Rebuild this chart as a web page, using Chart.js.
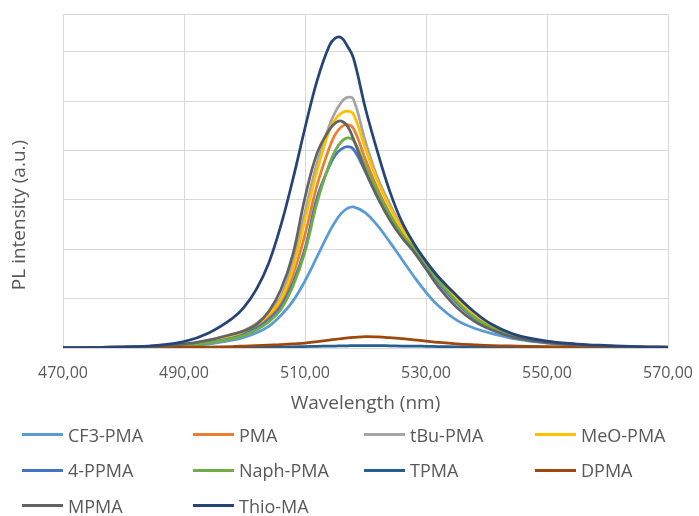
<!DOCTYPE html>
<html>
<head>
<meta charset="utf-8">
<script src="https://cdn.jsdelivr.net/npm/chart.js@4.4.0/dist/chart.umd.min.js"></script>
<style>
  html, body { margin: 0; padding: 0; background: #fff; }
  #wrap { position: relative; width: 699px; height: 516px; }
  #legend {
    position: absolute; left: 22px; top: 417px;
    display: grid; grid-template-columns: repeat(4, 171px); grid-auto-rows: 35.5px;
    font: 18px "Open Sans", sans-serif; color: #595959;
  }
  #legend .item { display: flex; align-items: center; white-space: nowrap; }
  #legend .swatch { width: 41px; height: 3px; margin-right: 5px; }
</style>
</head>
<body>
<div id="wrap">
  <canvas id="plChart" width="699" height="516"></canvas>
  <div id="legend"></div>
</div>
<script>
// wavelength grid (nm)
var wavelengths = [470, 475, 480, 485, 490, 494, 498, 500, 502, 504, 506, 508, 510, 512,
                   514, 515, 516, 517, 518,
                   520, 522, 524, 526, 528, 530, 532,
                   535, 538, 541, 545, 550, 555, 560, 565, 570];

// PL intensity (a.u.)
var cf3Pma  = [0.01, 0.01, 0.02, 0.03, 0.04, 0.08, 0.16, 0.22, 0.31, 0.44, 0.66, 0.95, 1.36, 1.85,
               2.35, 2.56, 2.73, 2.83, 2.86,
               2.74, 2.48, 2.15, 1.80, 1.45, 1.13, 0.86,
               0.57, 0.40, 0.29, 0.18, 0.10, 0.06, 0.04, 0.02, 0.01];
var pma     = [0.01, 0.01, 0.02, 0.03, 0.06, 0.12, 0.23, 0.31, 0.44, 0.63, 0.92, 1.48, 2.30, 3.30,
               4.05, 4.33, 4.48, 4.53, 4.45,
               3.82, 3.22, 2.73, 2.33, 2.03, 1.70, 1.38,
               0.97, 0.63, 0.41, 0.23, 0.12, 0.07, 0.04, 0.02, 0.01];
var tBuPma  = [0.01, 0.01, 0.02, 0.03, 0.07, 0.14, 0.27, 0.36, 0.50, 0.71, 1.04, 1.75, 2.75, 3.75,
               4.50, 4.78, 4.98, 5.08, 5.04,
               4.18, 3.45, 2.92, 2.46, 2.08, 1.75, 1.44,
               1.02, 0.66, 0.43, 0.24, 0.13, 0.07, 0.04, 0.03, 0.02];
var meoPma  = [0.01, 0.01, 0.02, 0.03, 0.07, 0.13, 0.25, 0.34, 0.48, 0.68, 0.98, 1.60, 2.60, 3.60,
               4.40, 4.63, 4.76, 4.80, 4.74,
               4.04, 3.38, 2.86, 2.42, 2.06, 1.73, 1.42,
               1.00, 0.65, 0.42, 0.24, 0.13, 0.07, 0.04, 0.03, 0.02];
var ppma4   = [0.01, 0.01, 0.02, 0.03, 0.05, 0.11, 0.20, 0.28, 0.40, 0.57, 0.84, 1.32, 2.02, 3.05,
               3.68, 3.91, 4.03, 4.08, 4.03,
               3.57, 3.08, 2.65, 2.28, 2.00, 1.67, 1.34,
               0.92, 0.60, 0.39, 0.22, 0.12, 0.07, 0.04, 0.02, 0.01];
var naphPma = [0.01, 0.01, 0.02, 0.03, 0.05, 0.10, 0.19, 0.26, 0.37, 0.53, 0.78, 1.25, 1.95, 2.95,
               3.72, 4.00, 4.18, 4.26, 4.21,
               3.68, 3.16, 2.71, 2.31, 2.03, 1.70, 1.37,
               0.95, 0.62, 0.40, 0.23, 0.12, 0.07, 0.04, 0.02, 0.01];
var tpma    = [0.00, 0.00, 0.00, 0.00, 0.005, 0.005, 0.01, 0.01, 0.015, 0.015, 0.02, 0.025, 0.03, 0.035,
               0.04, 0.04, 0.045, 0.045, 0.05,
               0.05, 0.05, 0.045, 0.04, 0.04, 0.035, 0.03,
               0.025, 0.02, 0.02, 0.015, 0.01, 0.01, 0.005, 0.005, 0.005];
var dpma    = [0.00, 0.00, 0.01, 0.01, 0.015, 0.02, 0.03, 0.04, 0.05, 0.06, 0.07, 0.085, 0.10, 0.13,
               0.16, 0.175, 0.19, 0.205, 0.215,
               0.23, 0.225, 0.21, 0.19, 0.165, 0.14, 0.115,
               0.085, 0.065, 0.05, 0.04, 0.03, 0.02, 0.015, 0.01, 0.01];
var mpma    = [0.01, 0.01, 0.02, 0.04, 0.08, 0.16, 0.28, 0.35, 0.48, 0.74, 1.18, 1.90, 3.05, 3.95,
               4.42, 4.56, 4.60, 4.50, 4.24,
               3.58, 3.05, 2.60, 2.24, 1.95, 1.60, 1.25,
               0.83, 0.54, 0.36, 0.20, 0.11, 0.06, 0.04, 0.02, 0.01];
var thioMa  = [0.00, 0.01, 0.02, 0.05, 0.13, 0.30, 0.60, 0.84, 1.20, 1.72, 2.48, 3.42, 4.46, 5.42,
               6.12, 6.28, 6.29, 6.12, 5.88,
               4.85, 3.97, 3.18, 2.56, 2.12, 1.76, 1.45,
               1.07, 0.73, 0.47, 0.26, 0.14, 0.08, 0.05, 0.03, 0.02];

var seriesNames  = ['CF3-PMA', 'PMA', 'tBu-PMA', 'MeO-PMA', '4-PPMA', 'Naph-PMA', 'TPMA', 'DPMA', 'MPMA', 'Thio-MA'];
var seriesValues = [cf3Pma, pma, tBuPma, meoPma, ppma4, naphPma, tpma, dpma, mpma, thioMa];
var seriesColors = ['#5B9BD5', '#ED7D31', '#A5A5A5', '#FFC000', '#4472C4', '#70AD47', '#255E91', '#9E480E', '#636363', '#264478'];

var xTitle = 'Wavelength (nm)';
var yTitle = 'PL intensity (a.u.)';

var textColor = '#595959';
var gridColor = '#d9d9d9';
var fontFamily = '"Open Sans", sans-serif';

var datasets = [];
for (var i = 0; i < seriesNames.length; i++) {
  var pts = [];
  for (var j = 0; j < wavelengths.length; j++) {
    pts.push({ x: wavelengths[j], y: seriesValues[i][j] });
  }
  datasets.push({
    label: seriesNames[i],
    data: pts,
    borderColor: seriesColors[i],
    backgroundColor: seriesColors[i],
    borderWidth: 2.75,
    pointRadius: 0,
    fill: false,
    tension: 0.4,
    order: seriesNames.length - i   // later series drawn on top, like excel
  });
}

// y title sits a bit lower than the plot centre in the original
var yTitlePlugin = {
  id: 'yTitle',
  afterDraw: function(chart) {
    var ctx = chart.ctx;
    ctx.save();
    ctx.translate(20, 215);
    ctx.rotate(-Math.PI / 2);
    ctx.font = '19px ' + fontFamily;
    ctx.fillStyle = textColor;
    ctx.textAlign = 'center';
    ctx.textBaseline = 'middle';
    ctx.fillText(yTitle, 0, 0);
    ctx.restore();
  }
};

var ctx = document.getElementById('plChart').getContext('2d');
var chart = new Chart(ctx, {
  type: 'line',
  data: { datasets: datasets },
  options: {
    responsive: false,
    animation: false,
    layout: { padding: { left: 0, top: 14, right: 31, bottom: 96 } },
    plugins: {
      legend: { display: false },
      tooltip: { enabled: false }
    },
    scales: {
      x: {
        type: 'linear',
        min: 470,
        max: 570,
        ticks: {
          stepSize: 20,
          padding: 16,
          color: textColor,
          font: { family: fontFamily, size: 16 },
          maxRotation: 0,
          callback: function(v) { return v.toFixed(2).replace('.', ','); }
        },
        grid: { color: gridColor, lineWidth: 1, drawTicks: false },
        border: { color: gridColor, width: 1 },
        title: {
          display: true,
          text: xTitle,
          color: textColor,
          font: { family: fontFamily, size: 19 },
          padding: { top: 0, bottom: 5 }
        },
        afterFit: function(scale) {
          scale.height = 72;
          scale.paddingLeft = 0;
          scale.paddingRight = 0;
        }
      },
      y: {
        min: 0,
        max: 6.77,
        ticks: { stepSize: 1, display: false },
        grid: { color: gridColor, lineWidth: 1, drawTicks: false },
        border: { color: gridColor, width: 1 },
        afterFit: function(scale) { scale.width = 63; }
      }
    }
  },
  plugins: [yTitlePlugin]
});

// legend in a 4 column grid like the original
var legendBox = document.getElementById('legend');
for (var k = 0; k < seriesNames.length; k++) {
  var item = document.createElement('div');
  item.className = 'item';
  var sw = document.createElement('span');
  sw.className = 'swatch';
  sw.style.background = seriesColors[k];
  var txt = document.createElement('span');
  txt.textContent = seriesNames[k];
  item.appendChild(sw);
  item.appendChild(txt);
  legendBox.appendChild(item);
}
</script>
</body>
</html>
